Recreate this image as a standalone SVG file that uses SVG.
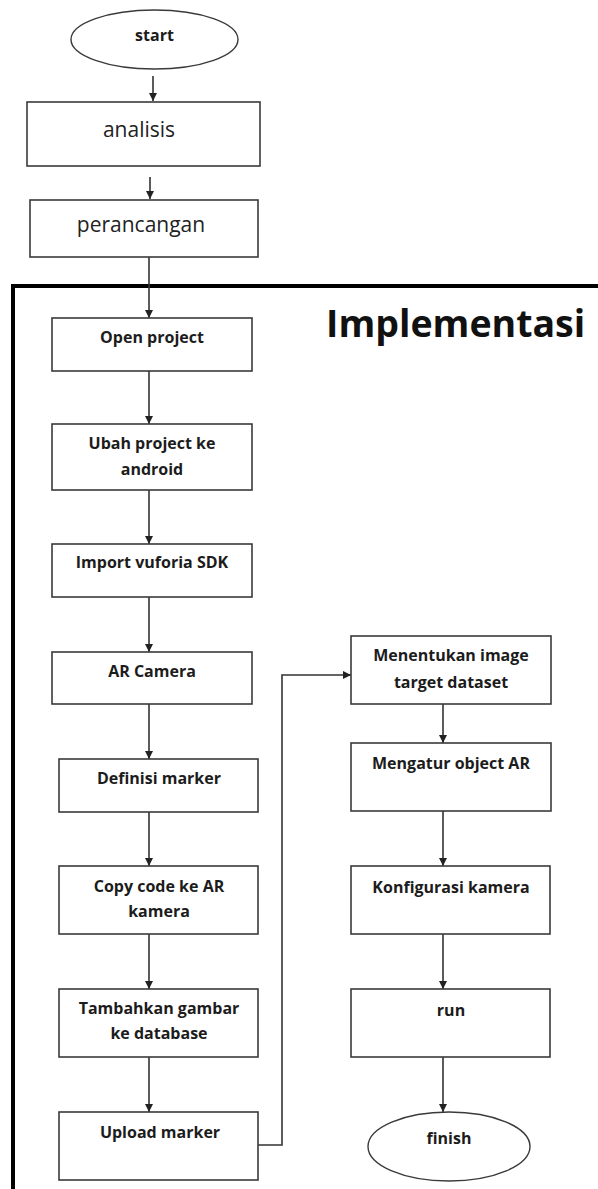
<svg xmlns="http://www.w3.org/2000/svg" width="598" height="1189" viewBox="0 0 598 1189">
<style>
.box{fill:#fff;stroke:#3a3a3a;stroke-width:1.6}
.term{fill:#fff;stroke:#3a3a3a;stroke-width:1.4}
.lbl{font-family:"Open Sans","Liberation Sans",sans-serif;font-weight:bold;font-size:16px;fill:#1c1c1c;text-anchor:middle}
.reg{font-family:"Open Sans","Liberation Sans",sans-serif;font-size:21px;fill:#222;text-anchor:middle}
.conn{fill:none;stroke:#333;stroke-width:1.6}
</style>
<defs>
<marker id="ah" viewBox="0 0 10 10" refX="10" refY="5" markerWidth="8" markerHeight="8" markerUnits="userSpaceOnUse" orient="auto">
<path d="M0,0 L10,5 L0,10 z" fill="#222"/>
</marker>
</defs>
<rect width="598" height="1189" fill="#fff"/>

<g id="frame">
<path d="M13,1195 V286 H605" fill="none" stroke="#000" stroke-width="4"/>
<text x="326" y="337" font-family="'Open Sans','Liberation Sans',sans-serif" font-weight="bold" font-size="37.5" fill="#111">Implementasi</text>
</g>

<g id="connectors">
<path class="conn" d="M153,76 V101" marker-end="url(#ah)"/>
<path class="conn" d="M150,177 V199" marker-end="url(#ah)"/>
<path class="conn" d="M149,257 V318" marker-end="url(#ah)"/>
<path class="conn" d="M149,371 V424" marker-end="url(#ah)"/>
<path class="conn" d="M149,490 V544" marker-end="url(#ah)"/>
<path class="conn" d="M149,597 V652" marker-end="url(#ah)"/>
<path class="conn" d="M149,704 V759" marker-end="url(#ah)"/>
<path class="conn" d="M149,812 V866" marker-end="url(#ah)"/>
<path class="conn" d="M149,934 V989" marker-end="url(#ah)"/>
<path class="conn" d="M149,1057 V1112" marker-end="url(#ah)"/>
<path class="conn" d="M258,1145 H282 V675 H351" marker-end="url(#ah)"/>
<path class="conn" d="M443,704 V743" marker-end="url(#ah)"/>
<path class="conn" d="M443,811 V866" marker-end="url(#ah)"/>
<path class="conn" d="M443,934 V989" marker-end="url(#ah)"/>
<path class="conn" d="M443,1057 V1112" marker-end="url(#ah)"/>
</g>

<g id="start">
<ellipse class="term" cx="154.5" cy="39.5" rx="83.5" ry="29.5"/>
<text class="lbl" x="154.5" y="41" font-size="15">start</text>
</g>
<g id="analisis">
<rect class="box" x="27" y="102" width="233" height="64"/>
<text class="reg" x="139" y="137">analisis</text>
</g>
<g id="perancangan">
<rect class="box" x="30" y="200" width="228" height="57"/>
<text class="reg" x="141" y="232">perancangan</text>
</g>

<g id="open-project">
<rect class="box" x="52" y="318" width="200" height="53"/>
<text class="lbl" x="152" y="343">Open project</text>
</g>
<g id="ubah-project">
<rect class="box" x="52" y="424" width="200" height="66"/>
<text class="lbl" x="152" y="449">Ubah project ke</text>
<text class="lbl" x="152" y="475">android</text>
</g>
<g id="import-vuforia">
<rect class="box" x="52" y="544" width="200" height="53"/>
<text class="lbl" x="152" y="568">Import vuforia SDK</text>
</g>
<g id="ar-camera">
<rect class="box" x="52" y="652" width="200" height="52"/>
<text class="lbl" x="152" y="677">AR Camera</text>
</g>
<g id="definisi-marker">
<rect class="box" x="59" y="759" width="199" height="53"/>
<text class="lbl" x="159" y="784">Definisi marker</text>
</g>
<g id="copy-code">
<rect class="box" x="59" y="866" width="199" height="68"/>
<text class="lbl" x="159" y="892">Copy code ke AR</text>
<text class="lbl" x="159" y="917">kamera</text>
</g>
<g id="tambahkan-gambar">
<rect class="box" x="59" y="989" width="199" height="68"/>
<text class="lbl" x="159" y="1014">Tambahkan gambar</text>
<text class="lbl" x="159" y="1039">ke database</text>
</g>
<g id="upload-marker">
<rect class="box" x="59" y="1112" width="199" height="68"/>
<text class="lbl" x="160" y="1138">Upload marker</text>
</g>

<g id="menentukan-image">
<rect class="box" x="351" y="636" width="200" height="68"/>
<text class="lbl" x="451" y="661">Menentukan image</text>
<text class="lbl" x="451" y="688">target dataset</text>
</g>
<g id="mengatur-object">
<rect class="box" x="351" y="743" width="200" height="68"/>
<text class="lbl" x="451" y="769">Mengatur object AR</text>
</g>
<g id="konfigurasi-kamera">
<rect class="box" x="351" y="866" width="199" height="68"/>
<text class="lbl" x="451" y="893">Konfigurasi kamera</text>
</g>
<g id="run">
<rect class="box" x="351" y="989" width="199" height="68"/>
<text class="lbl" x="451" y="1016">run</text>
</g>
<g id="finish">
<ellipse class="term" cx="449" cy="1146.5" rx="81" ry="34.5"/>
<text class="lbl" x="449" y="1144">finish</text>
</g>
</svg>
